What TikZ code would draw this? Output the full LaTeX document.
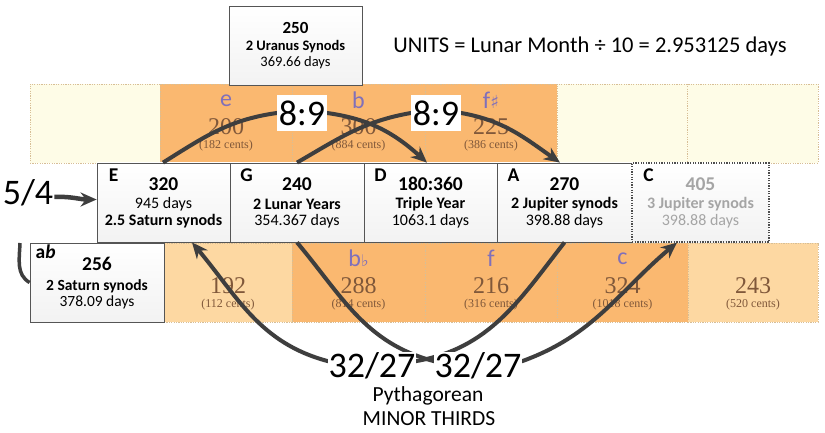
\documentclass[tikz,border=0pt]{standalone}
\usepackage{fontspec}
\setmainfont{Carlito}
\newfontfamily\tmsfont{Liberation Serif}
\newfontfamily\dvsym{DejaVu Sans}
\usetikzlibrary{arrows.meta}
\definecolor{cOrange}{RGB}{250,184,112}
\definecolor{cLight}{RGB}{253,216,162}
\definecolor{cPale}{RGB}{254,252,231}
\definecolor{cBrown}{RGB}{128,88,58}
\definecolor{cPurple}{RGB}{128,112,186}
\definecolor{cArrow}{RGB}{62,62,62}
\definecolor{cGrayTxt}{RGB}{165,165,165}
\definecolor{cBorder}{RGB}{85,85,85}
\definecolor{cCellLine}{RGB}{215,190,150}
\pgfdeclarelayer{front}
\pgfsetlayers{main,front}
\newcommand\boxtext[5]{%
  \node[lettxt] (#1-l) at ([xshift=17,yshift=-13]#1.north west) {#2};
  \node[numtxt] (#1-n) at ([yshift=-21.5]#1.north) {#3};
  \node[linetxt] (#1-a) at ([yshift=-42]#1.north) {#4};
  \node[linetxt] (#1-b) at ([yshift=-59]#1.north) {#5};
}
\newcommand\celltext[3]{%
  \node[cellnum] (#1-n) at ([yshift=-43]#1.north) {#2};
  \node[cents] (#1-c) at ([yshift=-62]#1.north) {#3};
}
\begin{document}
\begin{tikzpicture}[x=1pt,y=1pt,
  cellbox/.style={draw=cCellLine, dash pattern=on 1.2pt off 1.2pt, line width=0.6pt, minimum height=79, inner sep=0},
  infobox/.style={draw=cBorder, line width=0.8pt, top color=white, bottom color=black!5, minimum height=79, inner sep=0},
  lettxt/.style={font=\bfseries\fontsize{19.5}{20}\selectfont, inner sep=0},
  numtxt/.style={font=\bfseries\fontsize{19.5}{20}\selectfont, inner sep=0},
  linetxt/.style={font=\fontsize{16}{16}\selectfont, inner sep=0},
  notelet/.style={font=\fontsize{24}{24}\selectfont, text=cPurple, inner sep=0},
  cellnum/.style={font=\tmsfont\fontsize{24}{24}\selectfont, text=cBrown, inner sep=0},
  cents/.style={font=\tmsfont\fontsize{12}{12}\selectfont, text=cBrown, inner sep=0},
  bigtxt/.style={font=\fontsize{36}{36}\selectfont, inner sep=1pt},
  ratiobox/.style={font=\fontsize{36}{36}\selectfont, fill=white, minimum width=50, minimum height=36, inner sep=0},
  captxt/.style={font=\fontsize{21.5}{22}\selectfont, inner sep=0},
  arr/.style={draw=cArrow, line width=4pt, -{Stealth[length=16pt,width=14pt]}}
]
\useasboundingbox (0,0) rectangle (825,-433);
\fill[white] (0,0) rectangle (825,-433);

% top row of cells
\node[cellbox,fill=cPale,minimum width=130] (ty1) at (95,-123.5) {};
\node[cellbox,fill=cOrange,minimum width=132] (te) at (226,-123.5) {};
\node[cellbox,fill=cOrange,minimum width=133] (tb) at (358.5,-123.5) {};
\node[cellbox,fill=cOrange,minimum width=132] (tf) at (491,-123.5) {};
\node[cellbox,fill=cPale,minimum width=130] (ty2) at (622,-123.5) {};
\node[cellbox,fill=cPale,minimum width=131] (ty3) at (752.5,-123.5) {};

% bottom row of cells
\node[cellbox,fill=cLight,minimum width=128] (b192) at (228,-282.5) {};
\node[cellbox,fill=cOrange,minimum width=133] (b288) at (358.5,-282.5) {};
\node[cellbox,fill=cOrange,minimum width=132] (b216) at (491,-282.5) {};
\node[cellbox,fill=cOrange,minimum width=131] (b324) at (622.5,-282.5) {};
\node[cellbox,fill=cLight,minimum width=130] (b243) at (753,-282.5) {};

% info boxes
\node[infobox,minimum width=133] (U) at (295.5,-45.5) {};
\node[infobox,minimum width=133] (E) at (163.5,-202.5) {};
\node[infobox,minimum width=134] (G) at (297,-202.5) {};
\node[infobox,minimum width=133] (D) at (430.5,-202.5) {};
\node[infobox,minimum width=135] (A) at (564.5,-202.5) {};
\node[infobox,minimum width=137,draw=cBorder!90!black,dash pattern=on 1.3pt off 1.3pt,line width=1.1pt] (C) at (700.5,-202.5) {};
\node[infobox,minimum width=134] (AB) at (97,-282.5) {};

% cell texts
\node[notelet] (te-l) at ([yshift=-17]te.north) {e};
\node[notelet] (tb-l) at ([yshift=-17]tb.north) {b};
\node[notelet] (tf-l) at ([yshift=-17]tf.north) {f{\dvsym\fontsize{18}{18}\selectfont ♯}};
\celltext{te}{200}{(182 cents)}
\celltext{tb}{300}{(884 cents)}
\celltext{tf}{225}{(386 cents)}
\node[notelet] (b288-l) at ([yshift=-16]b288.north) {b{\dvsym\fontsize{16}{16}\selectfont ♭}};
\node[notelet] (b216-l) at ([yshift=-16]b216.north) {f};
\node[notelet] (b324-l) at ([yshift=-16]b324.north) {c};
\celltext{b192}{192}{(112 cents)}
\celltext{b288}{288}{(814 cents)}
\celltext{b216}{216}{(316 cents)}
\celltext{b324}{324}{(1018 cents)}
\celltext{b243}{243}{(520 cents)}

% box texts
\node[font=\bfseries\fontsize{17}{17}\selectfont, inner sep=0] (U-n) at ([yshift=-22]U.north) {250};
\node[font=\bfseries\fontsize{14.5}{15}\selectfont, inner sep=0] (U-a) at ([yshift=-41]U.north) {2 Uranus Synods};
\node[font=\fontsize{14.5}{15}\selectfont, inner sep=0] (U-b) at ([yshift=-57.5]U.north) {369.66 days};
\boxtext{E}{E}{320}{945 days}{\bfseries 2.5 Saturn synods}
\boxtext{G}{G}{240}{\bfseries 2 Lunar Years}{354.367 days}
\boxtext{D}{D}{180:360}{\bfseries Triple Year}{1063.1 days}
\boxtext{A}{A}{270}{\bfseries 2 Jupiter synods}{398.88 days}
\boxtext{C}{C}{\color{cGrayTxt}405}{\color{cGrayTxt}\bfseries 3 Jupiter synods}{\color{cGrayTxt}398.88 days}
\node[lettxt] (AB-l) at ([xshift=16,yshift=-9]AB.north west) {a\textit{b}};
\node[numtxt] (AB-n) at ([yshift=-21]AB.north) {256};
\node[linetxt,font=\bfseries\fontsize{15.5}{16}\selectfont] (AB-a) at ([yshift=-43.5]AB.north) {2 Saturn synods};
\node[linetxt,font=\fontsize{15.5}{16}\selectfont] (AB-b) at ([yshift=-60]AB.north) {378.09 days};

% title
\node[font=\fontsize{22.5}{23}\selectfont, inner sep=0] (units) at (590,-47) {UNITS = Lunar Month ÷ 10 = 2.953125 days};

% ratio labels (front layer)
\begin{pgfonlayer}{front}
\node[ratiobox] (L1) at (302,-113) {8:9};
\node[ratiobox] (L2) at (436,-113) {8:9};
\node[bigtxt,fill=white] (L3) at (372,-366) {32/27};
\node[bigtxt,fill=white] (L4) at (478,-366) {32/27};
\node[bigtxt] (L5) at (28,-193) {5/4};
\end{pgfonlayer}
\node[captxt] (cap1) at (428,-396) {Pythagorean};
\node[captxt] (cap2) at (429,-419) {MINOR THIRDS};

% connector end points
\coordinate (Et) at ([xshift=-0.5]E.north);
\coordinate (Dt) at ([xshift=-3.5]D.north);
\coordinate (Gt) at (G.north);
\coordinate (At) at ([xshift=-4.5]A.north);
\coordinate (Ab) at (A.south);
\coordinate (Eb) at ([xshift=28.5]E.south);
\coordinate (Gb) at (G.south);
\coordinate (Cb) at ([xshift=-23.5]C.south);
\coordinate (q1) at (20,-243);

% arrows
\draw[arr] (Et) to[out=32,in=188] (L1.west) -- (L1.east) to[out=-8,in=138] (Dt);
\draw[arr] (Gt) to[out=30,in=190] (L2.west) -- (L2.east) to[out=-10,in=145] (At);
\draw[arr] (Ab) to[out=-128,in=10] ([yshift=5]L3.east) -- ([yshift=5]L3.west) to[out=165,in=-50] (Eb);
\draw[arr] (Gb) to[out=-50,in=165] ([yshift=5]L4.west) -- ([yshift=5]L4.east) to[out=20,in=-140] (Cb);
\draw[arr,line width=4.5pt] ([yshift=-4]L5.east) to[out=3,in=180] ([yshift=3]E.west);
\draw[draw=cArrow,line width=3.5pt] (q1) to[out=-92,in=150] (AB.west);
\end{tikzpicture}
\end{document}
